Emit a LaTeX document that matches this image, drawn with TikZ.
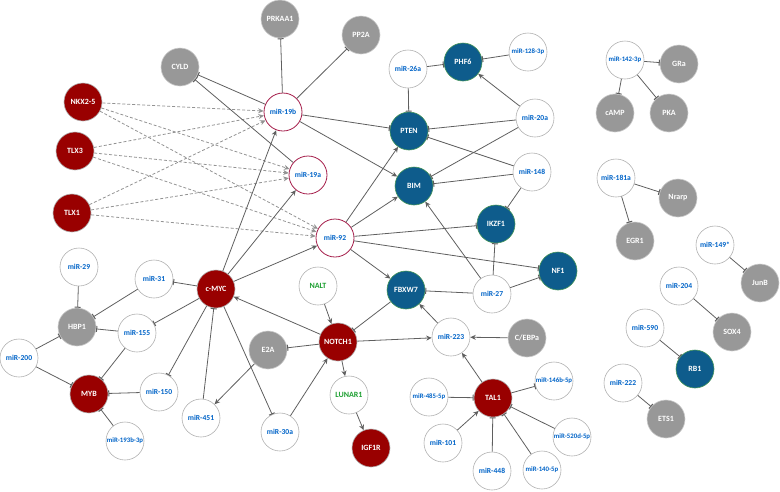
\documentclass[tikz,border=0pt]{standalone}
\usepackage{fontspec}
\setmainfont{Carlito}
\usepackage{tikz}
\usetikzlibrary{arrows.meta}

\definecolor{oncored}{RGB}{153,0,0}
\definecolor{genegray}{RGB}{152,152,152}
\definecolor{suppblue}{RGB}{14,92,140}
\definecolor{suppring}{RGB}{70,150,90}
\definecolor{mirtext}{RGB}{0,100,200}
\definecolor{clusterring}{RGB}{165,30,75}
\definecolor{lnctext}{RGB}{30,160,50}
\definecolor{edgegray}{RGB}{95,95,95}

\begin{document}
\begin{tikzpicture}[x=1pt, y=-1pt]
    % --- Styles ---
    \tikzstyle{base_node}=[circle, minimum size=38pt, inner sep=0pt, line width=0.6pt, font=\bfseries\fontsize{8}{9}\selectfont]
    \tikzstyle{onco_node}=[base_node, fill=oncored, draw=gray!60, text=white]
    \tikzstyle{gene_node}=[base_node, fill=genegray, draw=gray!40, text=white]
    \tikzstyle{supp_node}=[base_node, fill=suppblue, draw=suppring, text=white]
    \tikzstyle{mir_node}=[base_node, fill=white, draw=gray!60, text=mirtext, font=\bfseries\fontsize{7.6}{8}\selectfont]
    \tikzstyle{mir_long}=[mir_node, font=\bfseries\fontsize{6.8}{7}\selectfont]
    \tikzstyle{cluster_mir}=[mir_node, draw=clusterring, line width=0.8pt]
    \tikzstyle{lnc_node}=[base_node, fill=white, draw=gray!60, text=lnctext]
    \tikzstyle{act_edge}=[draw=edgegray, line width=0.8pt, -{Stealth[length=5.5pt, width=5pt]}]
    \tikzstyle{inh_edge}=[draw=edgegray, line width=0.8pt, -{Bar[width=6pt, line width=1pt]}]
    \tikzstyle{tf_edge}=[act_edge, draw=gray!85, dash pattern=on 3pt off 2pt]

    \useasboundingbox (0,0) rectangle (780,491);

    % --- 1. Oncogenes / transcription factors ---
    \node[onco_node] (nkx) at (83,102) {NKX2-5};
    \node[onco_node] (tlx3) at (75,151) {TLX3};
    \node[onco_node] (tlx1) at (72,213) {TLX1};
    \node[onco_node] (cmyc) at (216,289) {c-MYC};
    \node[onco_node] (myb) at (89,394) {MYB};
    \node[onco_node] (notch) at (338,342) {NOTCH1};
    \node[onco_node] (tal) at (493,398) {TAL1};
    \node[onco_node] (igf) at (371,448) {IGF1R};

    % --- 2. Other genes (gray) ---
    \node[gene_node] (cyld) at (180,67) {CYLD};
    \node[gene_node] (prkaa) at (280,19) {PRKAA1};
    \node[gene_node] (pp2a) at (361,35) {PP2A};
    \node[gene_node] (hbp) at (77,327) {HBP1};
    \node[gene_node] (e2a) at (268,350) {E2A};
    \node[gene_node] (cebpa) at (527,338) {C/EBPa};
    \node[gene_node] (gra) at (679,64) {GRa};
    \node[gene_node] (camp) at (615,113) {cAMP};
    \node[gene_node] (pka) at (669,113) {PKA};
    \node[gene_node] (nrarp) at (678,198) {Nrarp};
    \node[gene_node] (egr) at (635,241) {EGR1};
    \node[gene_node] (junb) at (760,283) {JunB};
    \node[gene_node] (sox) at (732,332) {SOX4};
    \node[gene_node] (ets) at (666,419) {ETS1};

    % --- 3. Tumour suppressors (blue) ---
    \node[supp_node] (phf) at (463,62) {PHF6};
    \node[supp_node] (pten) at (409,131) {PTEN};
    \node[supp_node] (bim) at (414,186) {BIM};
    \node[supp_node] (ikzf) at (496,224) {IKZF1};
    \node[supp_node] (nf1) at (558,271) {NF1};
    \node[supp_node] (fbxw) at (406,290) {FBXW7};
    \node[supp_node] (rb1) at (695,369) {RB1};

    % --- 4. miRNAs ---
    % miR-17~92 cluster members
    \node[cluster_mir] (m19b) at (283,112) {miR-19b};
    \node[cluster_mir] (m19a) at (308,175) {miR-19a};
    \node[cluster_mir] (m92) at (335,238) {miR-92};

    \node[mir_node] (m26a) at (408,69) {miR-26a};
    \node[mir_long] (m128) at (528,52) {miR-128-3p};
    \node[mir_node] (m20a) at (535,118) {miR-20a};
    \node[mir_node] (m148) at (532,172) {miR-148};
    \node[mir_node] (m29) at (79,267) {miR-29};
    \node[mir_node] (m31) at (154,279) {miR-31};
    \node[mir_node] (m155) at (137,333) {miR-155};
    \node[mir_node] (m200) at (19,358) {miR-200};
    \node[mir_node] (m150) at (159,392) {miR-150};
    \node[mir_node] (m451) at (201,418) {miR-451};
    \node[mir_long] (m193) at (125,441) {miR-193b-3p};
    \node[mir_node] (m30a) at (280,432) {miR-30a};
    \node[mir_node] (m27) at (492,294) {miR-27};
    \node[mir_node] (m223) at (451,337) {miR-223};
    \node[mir_long] (m485) at (429,397) {miR-485-5p};
    \node[mir_node] (m101) at (443,443) {miR-101};
    \node[mir_node] (m448) at (492,471) {miR-448};
    \node[mir_long] (m140) at (542,470) {miR-140-5p};
    \node[mir_long] (m146) at (554,381) {miR-146b-5p};
    \node[mir_long] (m520) at (572,437) {miR-520d-5p};
    \node[mir_long] (m142) at (625,60) {miR-142-3p};
    \node[mir_node] (m181) at (616,178) {miR-181a};
    \node[mir_node] (m149) at (715,245) {miR-149*};
    \node[mir_node] (m204) at (679,286) {miR-204};
    \node[mir_node] (m590) at (645,328) {miR-590};
    \node[mir_node] (m222) at (623,383) {miR-222};

    % --- 5. lncRNAs ---
    \node[lnc_node] (nalt) at (318,286) {NALT};
    \node[lnc_node] (lunar) at (349,395) {LUNAR1};

    % --- 6. Edges ---
    % TLX / NKX2-5 activate the cluster
    \foreach \src in {nkx,tlx3,tlx1}
        \foreach \dst in {m19b,m19a,m92}
            \draw[tf_edge] (\src) -- (\dst);

    % c-MYC
    \draw[act_edge] (cmyc) -- (m19b);
    \draw[act_edge] (cmyc) -- (m19a);
    \draw[act_edge] (cmyc) -- (m92);
    \draw[inh_edge] (cmyc) -- (m31);
    \draw[inh_edge] (cmyc) -- (m155);
    \draw[inh_edge] (cmyc) -- (m150);
    \draw[inh_edge] (cmyc) -- (m30a);
    \draw[inh_edge] (m451) -- (cmyc);

    % miR-19b / miR-19a / miR-92 targets
    \draw[inh_edge] (m19b) -- (prkaa);
    \draw[inh_edge] (m19b) -- (pp2a);
    \draw[inh_edge] (m19b) -- (cyld);
    \draw[inh_edge] (m19a) -- (cyld);
    \draw[inh_edge] (m19b) -- (pten);
    \draw[act_edge] (m19b) -- (bim);
    \draw[act_edge] (m92) -- (pten);
    \draw[act_edge] (m92) -- (bim);
    \draw[inh_edge] (m92) -- (ikzf);
    \draw[inh_edge] (m92) -- (nf1);
    \draw[act_edge] (m92) -- (fbxw);

    % suppressor targets
    \draw[inh_edge] (m26a) -- (phf);
    \draw[inh_edge] (m26a) -- (pten);
    \draw[inh_edge] (m128) -- (phf);
    \draw[act_edge] (m20a) -- (phf);
    \draw[inh_edge] (m20a) -- (pten);
    \draw[inh_edge] (m20a) -- (bim);
    \draw[inh_edge] (m148) -- (pten);
    \draw[inh_edge] (m148) -- (bim);
    \draw[inh_edge] (m148) -- (ikzf);
    \draw[act_edge] (m27) -- (bim);
    \draw[inh_edge] (m27) -- (ikzf);
    \draw[inh_edge] (m27) -- (nf1);
    \draw[inh_edge] (m27) -- (fbxw);
    \draw[act_edge] (m223) -- (fbxw);

    % NOTCH1 axis
    \draw[inh_edge] (fbxw) -- (notch);
    \draw[act_edge] (nalt) -- (notch);
    \draw[act_edge] (notch) -- (cmyc);
    \draw[inh_edge] (notch) -- (e2a);
    \draw[act_edge] (notch) -- (m223);
    \draw[act_edge] (notch) -- (lunar);
    \draw[act_edge] (lunar) -- (igf);
    \draw[act_edge] (m30a) -- (notch);
    \draw[act_edge] (e2a) -- (m451);
    \draw[act_edge] (cebpa) -- (m223);

    % HBP1 / MYB
    \draw[inh_edge] (m29) -- (hbp);
    \draw[inh_edge] (m31) -- (hbp);
    \draw[inh_edge] (m155) -- (hbp);
    \draw[inh_edge] (m200) -- (hbp);
    \draw[inh_edge] (m200) -- (myb);
    \draw[inh_edge] (m155) -- (myb);
    \draw[inh_edge] (m150) -- (myb);
    \draw[inh_edge] (m193) -- (myb);

    % TAL1
    \draw[act_edge] (tal) -- (m223);
    \draw[inh_edge] (tal) -- (m146);
    \draw[inh_edge] (m485) -- (tal);
    \draw[act_edge] (m101) -- (tal);
    \draw[inh_edge] (m448) -- (tal);
    \draw[inh_edge] (m140) -- (tal);
    \draw[inh_edge] (m520) -- (tal);

    % separate pairs on the right
    \draw[inh_edge] (m142) -- (gra);
    \draw[inh_edge] (m142) -- (camp);
    \draw[inh_edge] (m142) -- (pka);
    \draw[inh_edge] (m181) -- (nrarp);
    \draw[inh_edge] (m181) -- (egr);
    \draw[inh_edge] (m149) -- (junb);
    \draw[inh_edge] (m204) -- (sox);
    \draw[inh_edge] (m590) -- (rb1);
    \draw[inh_edge] (m222) -- (ets);
\end{tikzpicture}
\end{document}
